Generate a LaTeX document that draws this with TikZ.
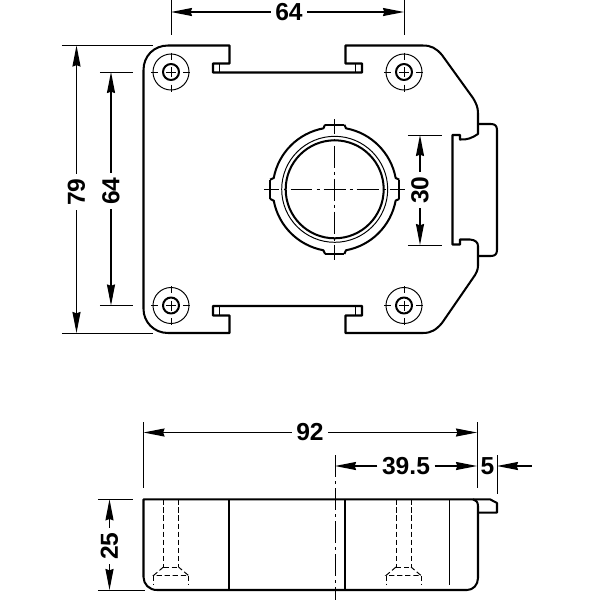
\documentclass[tikz,border=0pt]{standalone}
\usepackage{fontspec}
\setmainfont{Liberation Sans}
\usetikzlibrary{arrows.meta}
\tikzset{
  outline/.style={line width=1.15pt, line join=round},
  thinline/.style={line width=0.55pt},
  hidden/.style={line width=0.55pt, dash pattern=on 3pt off 1.6pt},
  centerline/.style={line width=0.55pt, dash pattern=on 12.5pt off 2.3pt on 1.7pt off 2.3pt},
  extline/.style={line width=0.55pt},
  dimline/.style={line width=0.6pt, -{Stealth[inset=0.8pt,length=12pt,width=4.6pt]}},
  dimlabel/.style={font=\fontsize{14}{14}\bfseries\selectfont, inner sep=2.5pt},
}
\begin{document}
\begin{tikzpicture}[x=0.02cm, y=-0.02cm]
  \useasboundingbox (0,0) rectangle (600,600);
  % plate
  \draw[outline] (168,45.5) -- (229.5,45.5) -- (229.5,63.5) -- (213,63.5) -- (213,72.5)
    -- (362,72.5) -- (362,63.5) -- (345.5,63.5) -- (345.5,45.5) -- (423,45.5)
    .. controls (431,45.5) and (436,48) .. (442,55) -- (473,98)
    .. controls (476,103) and (478,107) .. (478,113) -- (478,134)
    .. controls (472,138) and (467,140) .. (460,139.5) -- (460,135) -- (452.5,135)
    -- (452.5,244.5) -- (460,244.5) -- (460,239.5) -- (470,239.5)
    .. controls (475,240) and (478,242) .. (478,246) -- (478,266)
    .. controls (478,270) and (476,274) .. (473,278) -- (442,323)
    .. controls (436,330) and (431,333) .. (423,333) -- (345.5,333) -- (345.5,315.5)
    -- (362,315.5) -- (362,306) -- (213,306) -- (213,315.5) -- (229.5,315.5)
    -- (229.5,333) -- (168,333) .. controls (154,333) and (143.5,322) .. (143.5,309)
    -- (143.5,70) .. controls (143.5,56) and (154,45.5) .. (168,45.5) -- cycle;
  \draw[outline] (478,124) -- (491,124) .. controls (495,124) and (497,126) .. (497,130)
    -- (497,250) .. controls (497,254) and (495,256) .. (491,256) -- (478,256);
  \foreach \x in {219,355} {
    \draw[thinline] (\x,63.5) -- (\x,72.5);
    \draw[thinline] (\x,306) -- (\x,315.5);
  }
  % screws
  \foreach \x/\y in {171/72, 404/72, 171/305.5, 404/305.5} {
    \begin{scope}[shift={(\x,\y)}]
      \draw[thinline] (0,0) circle[radius=18];
      \draw[outline] (0,0) circle[radius=8];
      \draw[thinline] (-5,0) -- (5,0) (0,-5) -- (0,5);
      \draw[thinline] (-19.5,0) -- (-12.5,0) (12.5,0) -- (19.5,0) (0,-19.5) -- (0,-12.5) (0,12.5) -- (0,19.5);
    \end{scope}
  }
  % ring
  \begin{scope}[shift={(334.7,189.3)}]
    \draw[outline] (0,0) circle[radius=49];
    \draw[thinline] (0,0) circle[radius=53];
    \foreach \a in {0,90,180,270} {
      \draw[outline] (\a+8.5:65.3) -- (\a+10.5:62) arc[start angle=\a+10.5, end angle=\a+79.5, radius=62]
        -- (\a+81.5:65.3);
      \draw[outline] (\a-8.5:65.3) -- (\a+8.5:65.3);
    }
  \end{scope}
  \draw[centerline, dash phase=3.7pt] (264,189.3) -- (405,189.3);
  \draw[centerline, dash phase=3.7pt] (334.7,119) -- (334.7,260);
  % side view
  \draw[outline] (157,590) .. controls (149,590) and (143.5,584) .. (143.5,577) -- (143.5,499.3)
    -- (490,499.3) -- (497,503) -- (497,512.7) -- (478,512.7);
  \draw[outline] (473,499.3) .. controls (476,500) and (478,502) .. (478,506) -- (478,578)
    .. controls (478,585) and (473,590) .. (467,590) -- (157,590);
  \draw[outline] (229.3,499.3) -- (229.3,590);
  \draw[outline] (345,499.3) -- (345,590);
  \draw[thinline] (449,499.3) -- (449,585);
  \foreach \x in {171,403.5} {
    \begin{scope}[shift={(\x,0)}]
      \draw[hidden] (-7.5,499.3) -- (-7.5,567) (7.5,499.3) -- (7.5,567);
      \draw[hidden] (-7.5,567) -- (7.5,567);
      \draw[hidden] (-7.5,567) -- (-17.5,575.5) -- (17.5,575.5) -- (7.5,567);
      \draw[hidden] (-17.5,575.5) -- (-17.5,585) (17.5,575.5) -- (17.5,585);
    \end{scope}
  }
  \draw[centerline] (335,455) -- (335,600);
  % extension lines
  \draw[extline] (171,0) -- (171,35);
  \draw[extline] (404,0) -- (404,35);
  \draw[extline] (62,45.5) -- (153,45.5);
  \draw[extline] (62,333) -- (153,333);
  \draw[extline] (100,72) -- (133,72);
  \draw[extline] (100,305.5) -- (133,305.5);
  \draw[extline] (408,135) -- (442,135);
  \draw[extline] (408,245) -- (442,245);
  \draw[extline] (143.5,422) -- (143.5,488);
  \draw[extline] (477,422) -- (477,488);
  \draw[extline] (497,455) -- (497,494);
  \draw[extline] (98,499.3) -- (133,499.3);
  \draw[extline] (98,590) -- (145,590);
  % dimensions
  \node[dimlabel] (top64) at (289,12) {64};
  \coordinate (top64a) at (171,12);
  \coordinate (top64b) at (404,12);
  \draw[dimline] (top64) -- (top64a);
  \draw[dimline] (top64) -- (top64b);
  \node[dimlabel, rotate=90] (left79) at (76.5,192) {79};
  \coordinate (left79a) at (76.5,45.5);
  \coordinate (left79b) at (76.5,333);
  \draw[dimline] (left79) -- (left79a);
  \draw[dimline] (left79) -- (left79b);
  \node[dimlabel, rotate=90] (left64) at (111,191) {64};
  \coordinate (left64a) at (111,72);
  \coordinate (left64b) at (111,305.5);
  \draw[dimline] (left64) -- (left64a);
  \draw[dimline] (left64) -- (left64b);
  \node[dimlabel, rotate=90] (hole30) at (420,190) {30};
  \coordinate (hole30a) at (420,135);
  \coordinate (hole30b) at (420,245);
  \draw[dimline] (hole30) -- (hole30a);
  \draw[dimline] (hole30) -- (hole30b);
  \node[dimlabel] (width92) at (310,432.5) {92};
  \coordinate (width92a) at (143.5,432.5);
  \coordinate (width92b) at (477,432.5);
  \draw[dimline] (width92) -- (width92a);
  \draw[dimline] (width92) -- (width92b);
  \node[dimlabel] (off39) at (406,466) {39.5};
  \coordinate (off39a) at (335,466);
  \coordinate (off39b) at (477,466);
  \draw[dimline] (off39) -- (off39a);
  \draw[dimline] (off39) -- (off39b);
  \node[dimlabel] (tab5) at (487.5,466) {5};
  \coordinate (tab5a) at (532,466);
  \coordinate (tab5b) at (497,466);
  \draw[dimline] (tab5a) -- (tab5b);
  \node[dimlabel, rotate=90] (height25) at (109.5,546) {25};
  \coordinate (height25a) at (109.5,499.3);
  \coordinate (height25b) at (109.5,590);
  \draw[dimline] (height25) -- (height25a);
  \draw[dimline] (height25) -- (height25b);
\end{tikzpicture}
\end{document}
